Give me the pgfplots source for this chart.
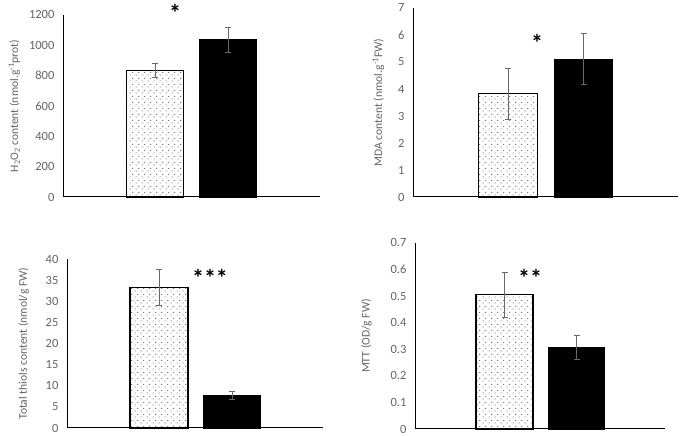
\documentclass[border=0pt]{standalone}
\usepackage{fontspec}
\setmainfont{Carlito}
\usepackage{pgfplots}
\pgfplotsset{compat=1.18}
\usetikzlibrary{patterns}
\pgfdeclarepatternformonly{sparsedots}{\pgfpointorigin}{\pgfqpoint{5.6bp}{6bp}}{\pgfqpoint{5.6bp}{6bp}}{%
  \pgfpathcircle{\pgfqpoint{1.2bp}{1.2bp}}{0.6bp}\pgfusepath{fill}%
  \pgfpathcircle{\pgfqpoint{4bp}{4.2bp}}{0.6bp}\pgfusepath{fill}}
\definecolor{tickgray}{RGB}{100,100,100}
\definecolor{errgray}{RGB}{105,105,105}
\pgfplotsset{
  panel/.style={
    scale only axis,
    axis lines=left,
    axis line style={-, black, line width=1pt},
    xtick=\empty,
    ymin=0, xmin=0,
    tick style={draw=none},
    yticklabel style={tickgray, font=\fontsize{12.5bp}{14bp}\selectfont, xshift=-3bp},
    ylabel style={tickgray, font=\fontsize{11.6bp}{13bp}\selectfont},
    /pgf/number format/assume math mode=true,
    /pgf/number format/1000 sep={},
    clip=false,
    ybar, bar shift=0pt,
    error bars/y dir=both, error bars/y explicit,
    error bars/error bar style={errgray, line width=0.9pt},
    error bars/error mark options={rotate=90, mark size=3bp, errgray, line width=0.9pt},
  },
  dotbar/.style={draw=black, line width=1.1pt, fill=white, postaction={pattern=sparsedots, pattern color=black!80}},
  blackbar/.style={draw=black, line width=1.1pt, fill=black},
}
\newcommand{\sig}[1]{\fontsize{24bp}{24bp}\selectfont\bfseries #1}
\begin{document}
\begin{tikzpicture}[x=1bp,y=1bp]
\useasboundingbox (0,0) rectangle (685,436);
% Panel 1
\begin{axis}[panel, at={(63bp,239bp)}, anchor=south west,
  width=257bp, height=182bp, xmax=257, ymax=1200, ytick={0,200,...,1200},
  ylabel={H\textsubscript{2}O\textsubscript{2} content (nmol.g\textsuperscript{-1}prot)},
  ylabel style={yshift=2bp}]
\addplot[dotbar, bar width=57] coordinates {(92,833) +- (0,45)};
\addplot[blackbar, bar width=56] coordinates {(165,1035) +- (0,85)};
\node at (axis cs:112,1215) {\sig{*}};
\end{axis}
% Panel 2
\begin{axis}[panel, at={(413bp,239bp)}, anchor=south west,
  width=265bp, height=189bp, xmax=265, ymax=7, ytick={0,1,...,7},
  ylabel={MDA content (nmol.g\textsuperscript{-1}FW)},
  ylabel style={yshift=7bp}]
\addplot[dotbar, bar width=59] coordinates {(95,3.82) +- (0,0.95)};
\addplot[blackbar, bar width=58] coordinates {(170.5,5.1) +- (0,0.95)};
\node at (axis cs:124,5.72) {\sig{*}};
\end{axis}
% Panel 3
\begin{axis}[panel, at={(67bp,8bp)}, anchor=south west,
  width=256bp, height=169bp, xmax=256, ymax=40, ytick={0,5,...,40},
  ylabel={Total thiols content (nmol/g FW)},
  ylabel style={yshift=10bp}]
\addplot[dotbar, bar width=58] coordinates {(92,33.2) +- (0,4.3)};
\addplot[blackbar, bar width=56] coordinates {(165,7.7) +- (0,0.9)};
\node at (axis cs:143,35.6) {\sig{***}};
\end{axis}
% Panel 4
\begin{axis}[panel, at={(415bp,7bp)}, anchor=south west,
  width=250bp, height=186bp, xmax=250, ymax=0.7, ytick={0,0.1,...,0.7},
  yticklabel style={/pgf/number format/fixed, /pgf/number format/precision=1},
  ylabel={MTT (OD/g FW)},
  ylabel style={yshift=12bp}]
\addplot[dotbar, bar width=57] coordinates {(89.5,0.505) +- (0,0.085)};
\addplot[blackbar, bar width=55] coordinates {(161.5,0.307) +- (0,0.045)};
\node at (axis cs:115,0.57) {\sig{**}};
\end{axis}
\end{tikzpicture}
\end{document}
